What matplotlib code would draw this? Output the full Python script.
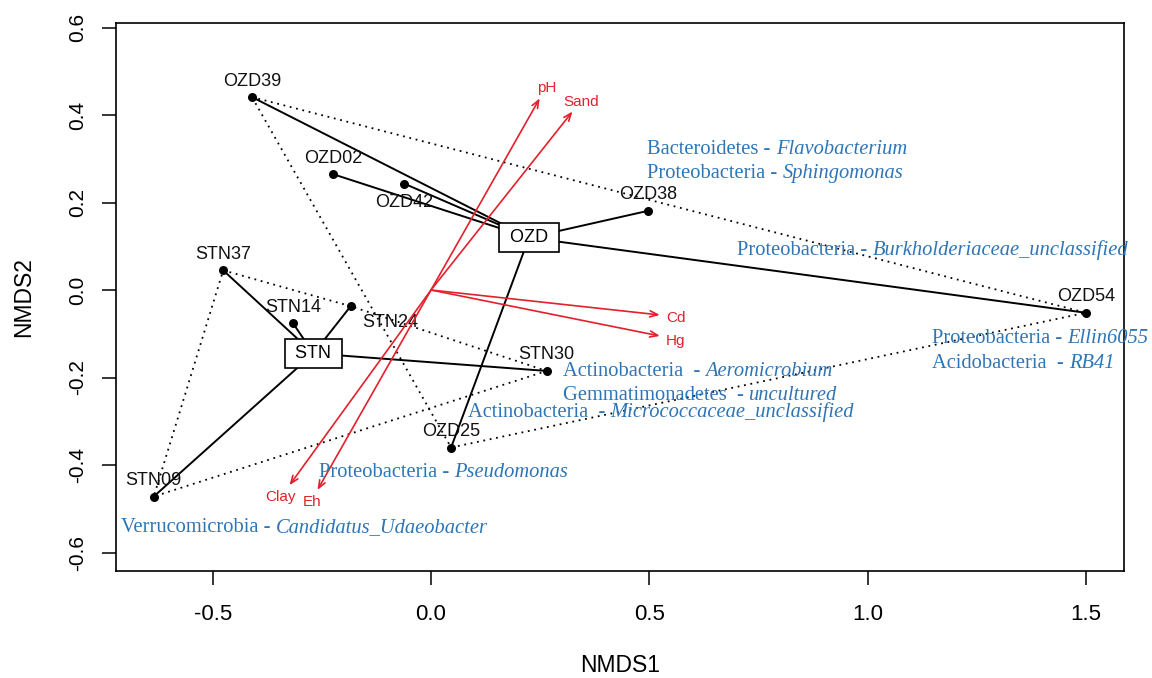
import matplotlib
matplotlib.use("Agg")
import matplotlib.pyplot as plt

# NMDS site scores
sites = ["OZD39", "OZD02", "OZD42", "OZD38", "OZD54", "OZD25",
         "STN37", "STN14", "STN24", "STN30", "STN09"]
nmds1 = [-0.410, -0.225, -0.061, 0.497, 1.500, 0.046,
         -0.476, -0.316, -0.184, 0.265, -0.635]
nmds2 = [0.441, 0.265, 0.243, 0.181, -0.052, -0.360,
         0.045, -0.076, -0.037, -0.185, -0.472]
groups = ["OZD"] * 6 + ["STN"] * 5

# hull outline order per group
hulls = {"OZD": ["OZD39", "OZD54", "OZD25"],
         "STN": ["STN37", "STN24", "STN30", "STN09"]}

# envfit vectors
env_vars = ["pH", "Sand", "Cd", "Hg", "Clay", "Eh"]
env_x = [0.249, 0.324, 0.524, 0.524, -0.324, -0.260]
env_y = [0.438, 0.408, -0.057, -0.105, -0.446, -0.457]
env_lab_x = [0.265, 0.344, 0.561, 0.561, -0.344, -0.273]
env_lab_y = [0.462, 0.430, -0.063, -0.117, -0.473, -0.484]

# taxa labels
taxa_phylum = ["Bacteroidetes", "Proteobacteria", "Proteobacteria",
               "Proteobacteria", "Acidobacteria ", "Actinobacteria ",
               "Gemmatimonadetes ", "Actinobacteria ", "Proteobacteria",
               "Verrucomicrobia"]
taxa_genus = ["Flavobacterium", "Sphingomonas", "Burkholderiaceae_unclassified",
              "Ellin6055", "RB41", "Aeromicrobium", "uncultured",
              "Micrococcaceae_unclassified", "Pseudomonas",
              "Candidatus_Udaeobacter"]
taxa_x = [0.495, 0.495, 0.701, 1.147, 1.147, 0.302, 0.302, 0.085, -0.257, -0.710]
taxa_y = [0.322, 0.267, 0.091, -0.110, -0.167, -0.187, -0.242, -0.281, -0.418, -0.542]

# label offsets (pixels) for site names
lab_off = {"OZD42": (0, -19), "STN24": (40, -16)}

plt.rcParams["font.family"] = "Liberation Sans"

fig = plt.figure(figsize=(11.52, 6.78), dpi=100)
ax = fig.add_axes([0.1007, 0.1578, 0.875, 0.8087])

pos = {s: (x, y) for s, x, y in zip(sites, nmds1, nmds2)}

# hulls (dotted)
for g, members in hulls.items():
    hx = [pos[m][0] for m in members] + [pos[members[0]][0]]
    hy = [pos[m][1] for m in members] + [pos[members[0]][1]]
    ax.plot(hx, hy, color="black", lw=1.3, linestyle=(0, (1, 2.6)), zorder=2)

# spiders from group centroids
centroids = {}
for g in ["OZD", "STN"]:
    gx = [x for x, gg in zip(nmds1, groups) if gg == g]
    gy = [y for y, gg in zip(nmds2, groups) if gg == g]
    cx, cy = sum(gx) / len(gx), sum(gy) / len(gy)
    centroids[g] = (cx, cy)
    for x, y in zip(gx, gy):
        ax.plot([cx, x], [cy, y], color="black", lw=1.4, zorder=3)

ax.scatter(nmds1, nmds2, s=30, color="black", zorder=4)

for s, x, y in zip(sites, nmds1, nmds2):
    dx, dy = lab_off.get(s, (0, 16))
    ax.annotate(s, (x, y), xytext=(dx, dy), textcoords="offset pixels",
                ha="center", va="center", fontsize=13, color="#111111", zorder=5)

for g, (cx, cy) in centroids.items():
    ax.text(cx, cy, " " + g + " ", ha="center", va="center", fontsize=13,
            zorder=6, bbox=dict(boxstyle="square,pad=0.33", fc="white",
                                ec="black", lw=1.2))

# env arrows
red = "#E3202B"
for v, x, y, lx, ly in zip(env_vars, env_x, env_y, env_lab_x, env_lab_y):
    ax.annotate("", xy=(x, y), xytext=(0, 0),
                arrowprops=dict(arrowstyle="->,head_length=0.55,head_width=0.22",
                                color=red, lw=1.2, shrinkA=0, shrinkB=0),
                zorder=7)
    ax.text(lx, ly, v, color=red, fontsize=11, ha="center", va="center", zorder=7)

# taxa text: phylum upright, genus italic
blue = "#2E75B6"
for p, gname, x, y in zip(taxa_phylum, taxa_genus, taxa_x, taxa_y):
    t1 = ax.text(x, y, p + " - ", color=blue, fontsize=14.8,
                 family="Liberation Serif", ha="left", va="center",
                 clip_on=False, zorder=8)
    ax.annotate(gname, xy=(1, 0), xycoords=t1, ha="left", va="bottom",
                color=blue, fontsize=14.8, family="Liberation Serif",
                fontstyle="italic", annotation_clip=False, zorder=8)

ax.set_xlim(-0.7215, 1.5873)
ax.set_ylim(-0.6423, 0.611)
xt = [-0.5, 0.0, 0.5, 1.0, 1.5]
yt = [-0.6, -0.4, -0.2, 0.0, 0.2, 0.4, 0.6]
ax.set_xticks(xt)
ax.set_xticklabels(["%.1f" % v for v in xt])
ax.set_yticks(yt)
ax.set_yticklabels(["%.1f" % v for v in yt])
ax.tick_params(axis="x", direction="out", length=10, width=1.1, labelsize=16, pad=14)
ax.tick_params(axis="y", direction="out", length=10, width=1.1, labelsize=15, pad=11)
plt.setp(ax.get_yticklabels(), rotation=90, va="center")
for sp in ax.spines.values():
    sp.set_linewidth(1.2)

ax.set_xlabel("NMDS1", fontsize=16.5)
ax.xaxis.set_label_coords(0.5, -0.172)
ax.xaxis.label.set_va("center")
ax.set_ylabel("NMDS2", fontsize=16.5)
ax.yaxis.set_label_coords(-0.092, 0.5)
ax.yaxis.label.set_va("center")

fig.savefig("out.png", dpi=100)
